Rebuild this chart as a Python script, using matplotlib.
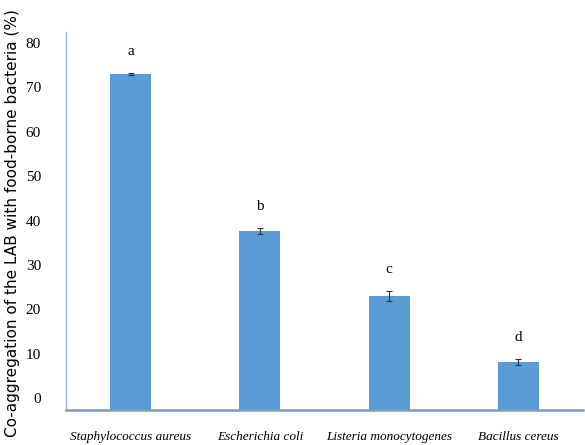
import matplotlib
matplotlib.use("Agg")
import matplotlib.pyplot as plt
import numpy as np

categories = ["Staphylococcus aureus", "Escherichia coli", "Listeria monocytogenes", "Bacillus cereus"]
values = [73.0, 37.6, 23.0, 8.2]
errors = [0.3, 0.7, 1.1, 0.7]
letters = ["a", "b", "c", "d"]
yticks = [0, 10, 20, 30, 40, 50, 60, 70, 80]

AXIS_MIN = -2.7
AXIS_MAX = 82.5

fig = plt.figure(figsize=(5.85, 4.45), dpi=100)
ax = fig.add_axes([66/585, 1-410/445, 517/585, 378/445])

x = np.arange(len(categories))
heights = [v - AXIS_MIN for v in values]
ax.bar(x, heights, bottom=AXIS_MIN, width=0.317, color="#5B9BD5", zorder=2)
ax.errorbar(x, values, yerr=errors, fmt="none", ecolor="#333333",
            elinewidth=0.8, capsize=2.5, capthick=0.8, zorder=3)

for xi, v, e, lt in zip(x, values, errors, letters):
    ax.annotate(lt, (xi, v + e), xytext=(0, 15.5), textcoords="offset points",
                ha="center", va="center", family="Liberation Serif", fontsize=11)

ax.set_xlim(-0.5, 3.5)
ax.set_ylim(AXIS_MIN, AXIS_MAX)
ax.set_yticks(yticks)
ax.set_yticklabels([str(t) for t in yticks], family="Liberation Serif", fontsize=11)
ax.set_xticks(x)
ax.set_xticklabels(categories, family="Liberation Serif", style="italic", fontsize=9.5)
ax.tick_params(axis="y", length=0, pad=18)
ax.tick_params(axis="x", length=0, pad=15)

for s in ["top", "right"]:
    ax.spines[s].set_visible(False)
ax.spines["left"].set_color("#9DB5D0")
ax.spines["left"].set_linewidth(1.0)
ax.spines["bottom"].set_color("#7F9DB9")
ax.spines["bottom"].set_linewidth(1.8)

fig.text(13/585, 1-223/445, "Co-aggregation of the LAB with food-borne bacteria (%)",
         rotation=90, ha="center", va="center", family="DejaVu Sans", fontsize=11)

fig.savefig("out.png", dpi=100)
